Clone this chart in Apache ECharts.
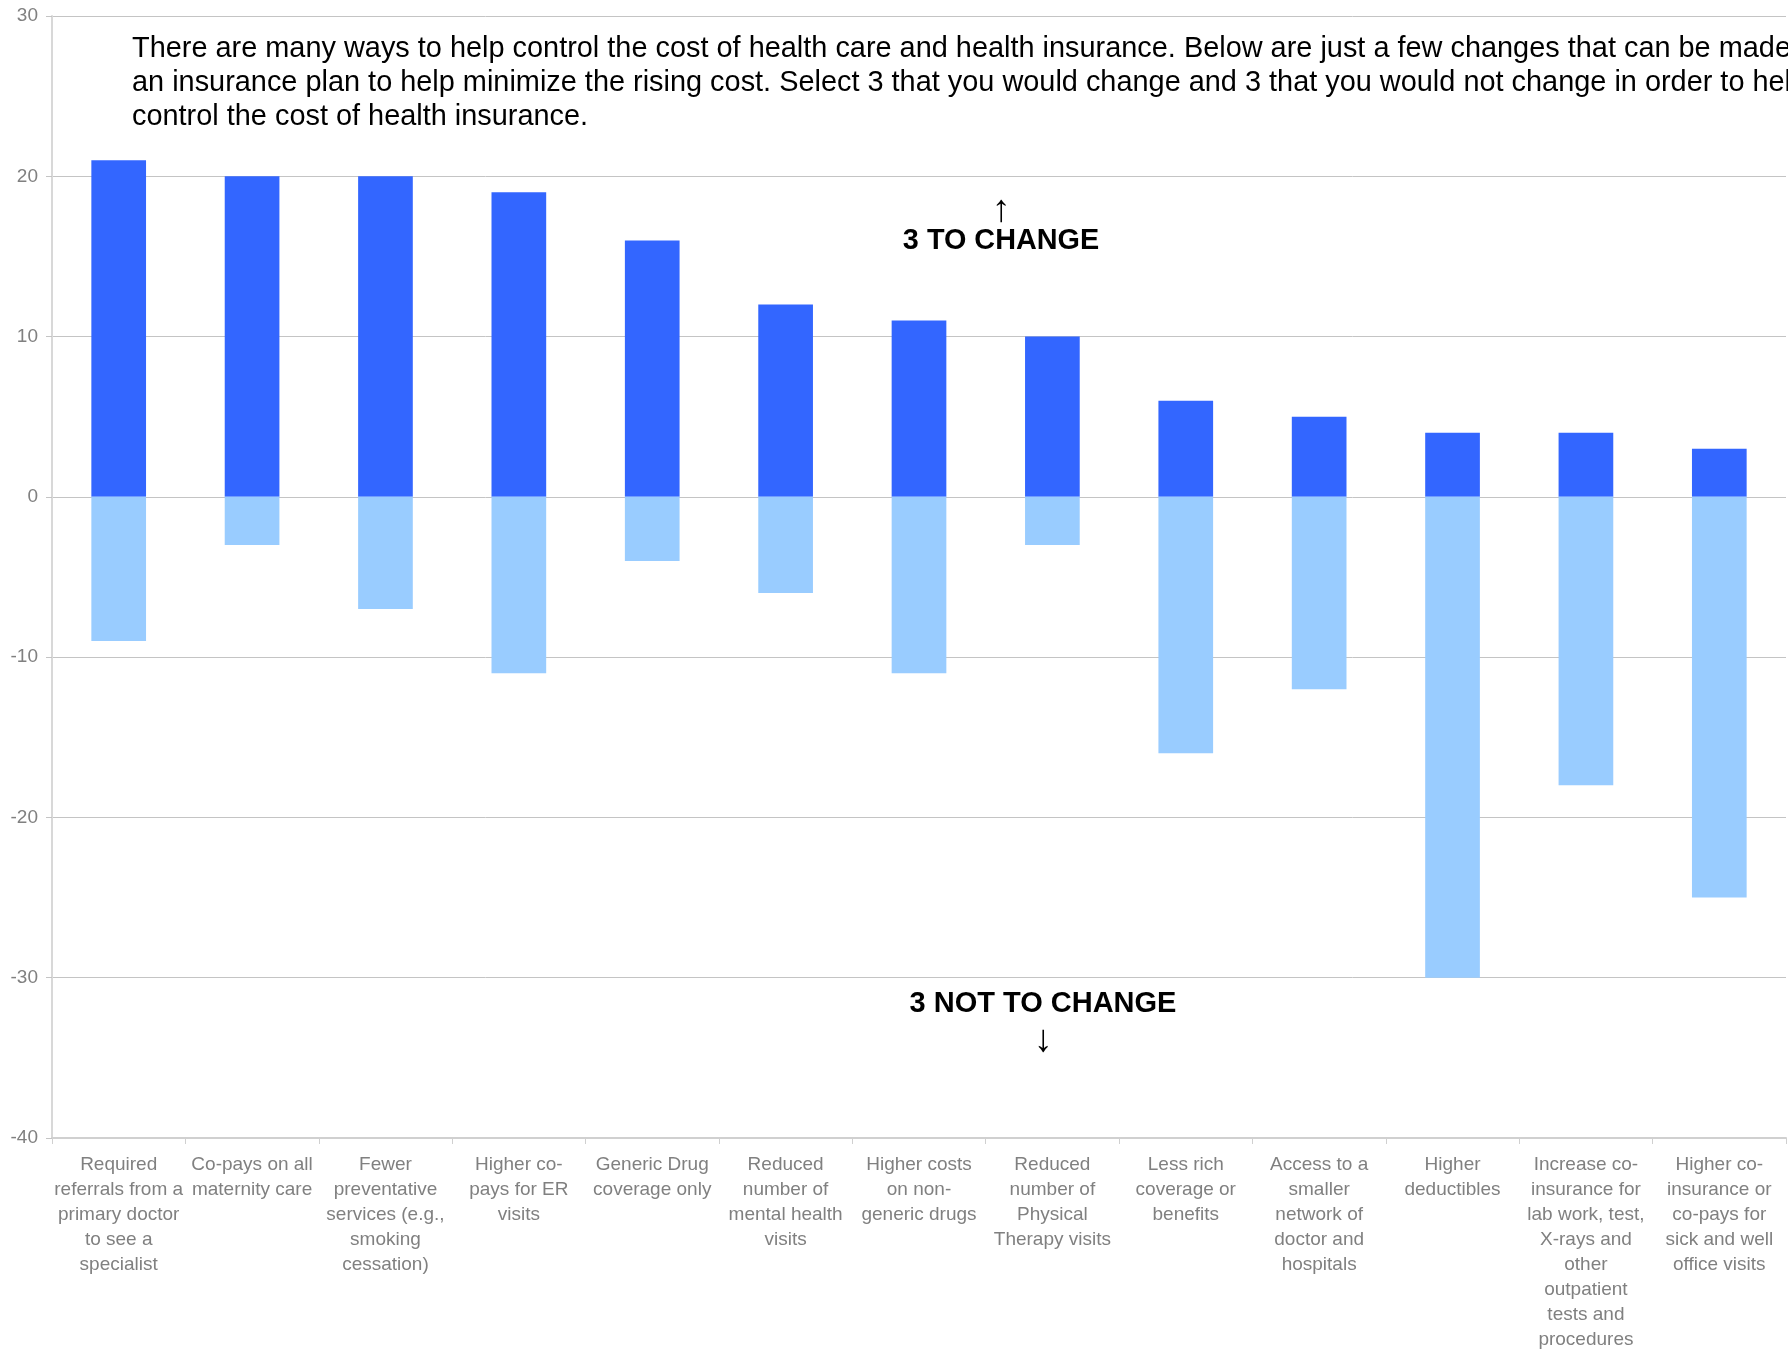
<!DOCTYPE html>
<html>
<head>
<meta charset="utf-8">
<script src="https://cdn.jsdelivr.net/npm/echarts@6/dist/echarts.min.js"></script>
<style>
  html, body { margin: 0; padding: 0; background: #fff; }
  #chart { width: 1788px; height: 1352px; }
</style>
</head>
<body>
<div id="chart"></div>
<script>
// Cost-control options, wrapped as they appear under the axis
const categories = [
  'Required\nreferrals from a\nprimary doctor\nto see a\nspecialist',
  'Co-pays on all\nmaternity care',
  'Fewer\npreventative\nservices (e.g.,\nsmoking\ncessation)',
  'Higher co-\npays for ER\nvisits',
  'Generic Drug\ncoverage only',
  'Reduced\nnumber of\nmental health\nvisits',
  'Higher costs\non non-\ngeneric drugs',
  'Reduced\nnumber of\nPhysical\nTherapy visits',
  'Less rich\ncoverage or\nbenefits',
  'Access to a\nsmaller\nnetwork of\ndoctor and\nhospitals',
  'Higher\ndeductibles',
  'Increase co-\ninsurance for\nlab work, test,\nX-rays and\nother\noutpatient\ntests and\nprocedures',
  'Higher co-\ninsurance or\nco-pays for\nsick and well\noffice visits'
];

// Votes for "would change" (up) and "would not change" (down)
const toChange    = [21, 20, 20, 19, 16, 12, 11, 10, 6, 5, 4, 4, 3];
const notToChange = [-9, -3, -7, -11, -4, -6, -11, -3, -16, -12, -30, -18, -25];

const yMin = -40, yMax = 30, yStep = 10;

const introLines = [
  'There are many ways to help control the cost of health care and health insurance. Below are just a few changes that can be made',
  'an insurance plan to help minimize the rising cost. Select 3 that you would change and 3 that you would not change in order to help',
  'control the cost of health insurance.'
];

const FONT = "'Liberation Sans', Arial, sans-serif";
const chart = echarts.init(document.getElementById('chart'), null, { renderer: 'canvas' });

chart.setOption({
  backgroundColor: '#ffffff',
  animation: false,
  grid: { left: 52, right: 2, top: 16, bottom: 209, containLabel: false },
  xAxis: {
    type: 'category',
    data: categories,
    axisLine: { onZero: false, lineStyle: { color: '#d0d0d0', width: 2 } },
    axisTick: { show: true, length: 6, alignWithLabel: false, lineStyle: { color: '#d0d0d0' } },
    axisLabel: {
      interval: 0,
      color: '#808080',
      fontFamily: FONT,
      fontSize: 19,
      lineHeight: 25,
      margin: 14,
      align: 'center',
      verticalAlign: 'top'
    },
    splitLine: { show: false }
  },
  yAxis: {
    type: 'value',
    min: yMin,
    max: yMax,
    interval: yStep,
    axisLine: { show: true, lineStyle: { color: '#d8d8d8', width: 2 } },
    axisTick: { show: true, length: 6, lineStyle: { color: '#c4c4c4' } },
    axisLabel: { color: '#808080', fontFamily: FONT, fontSize: 19, margin: 14 },
    splitLine: { show: true, lineStyle: { color: '#c4c4c4', width: 1 } }
  },
  series: [
    {
      name: '3 to change',
      type: 'bar',
      stack: 'votes',
      data: toChange,
      barWidth: '41%',
      itemStyle: { color: '#3366ff' }
    },
    {
      name: '3 not to change',
      type: 'bar',
      stack: 'votes',
      data: notToChange,
      barWidth: '41%',
      itemStyle: { color: '#99ccff' }
    }
  ],
  graphic: [
    {
      type: 'text',
      left: 132,
      top: 32,
      z: 10,
      style: {
        text: introLines.join('\n'),
        font: "28.9px " + FONT,
        lineHeight: 34,
        fill: '#000000'
      }
    },
    {
      type: 'text',
      x: 1001,
      y: 211,
      z: 10,
      style: { text: '↑', font: "38px " + FONT, fill: '#000', align: 'center', verticalAlign: 'middle' }
    },
    {
      type: 'text',
      x: 1001,
      y: 241,
      z: 10,
      style: { text: '3 TO CHANGE', font: "bold 28.8px " + FONT, fill: '#000', align: 'center', verticalAlign: 'middle' }
    },
    {
      type: 'text',
      x: 1043,
      y: 1004,
      z: 10,
      style: { text: '3 NOT TO CHANGE', font: "bold 29px " + FONT, fill: '#000', align: 'center', verticalAlign: 'middle' }
    },
    {
      type: 'text',
      x: 1043,
      y: 1041,
      z: 10,
      style: { text: '↓', font: "38px " + FONT, fill: '#000', align: 'center', verticalAlign: 'middle' }
    }
  ]
});
</script>
</body>
</html>
